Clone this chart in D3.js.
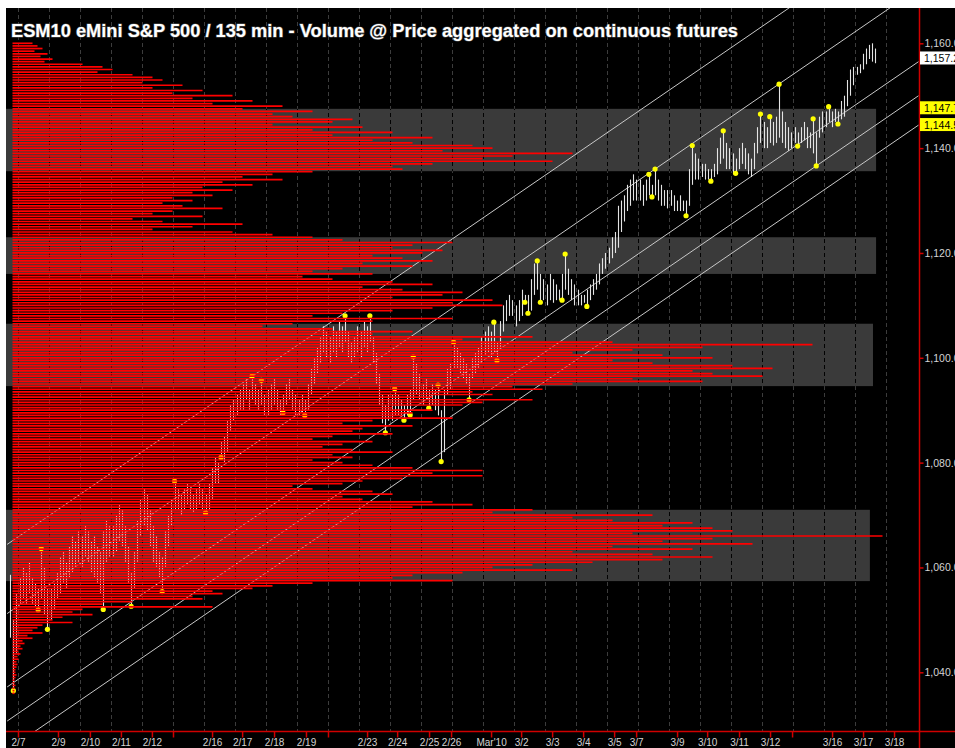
<!DOCTYPE html>
<html><head><meta charset="utf-8">
<script src="https://cdn.jsdelivr.net/npm/d3@7"></script>
<style>
html,body{margin:0;padding:0;background:#fff;}
svg{display:block;}
text{font-family:"Liberation Sans",Arial,sans-serif;}
</style></head><body>
<svg id="c" width="955" height="748"></svg>
<script>
const title = "ESM10 eMini S&P 500 / 135 min - Volume @ Price aggregated on continuous futures";
const priceTicks = [1040, 1060, 1080, 1100, 1120, 1140, 1160];
const dateTickLabels = ["2/7","2/9","2/10","2/11","2/12","","2/16","2/17","2/18","2/19","","2/23","2/24","2/25","2/26","Mar'10","3/2","3/3","3/4","3/5","3/7","3/9","3/10","3/11","3/12","","3/16","3/17","3/18"];
const dateTickBar = [-0.5,12.4,22.7,32.7,42.7,49.5,62.1,71.8,82.1,92.4,99.5,112.1,121.8,132.1,139.2,152.1,161.8,171.8,181.8,191.8,198.9,212.1,221.8,232.1,242.1,249.2,262.1,272.1,282.1];
const sessionCount = 29;       // session boundaries every 10 bars
const barsPerSession = 10;
const firstBar = -3;
const barHigh = [
 1058.6,1050,1055,
 1058,1060,1059,1061,1058,1057,1056,1063.6,1060,1056,
 1056,1057,1059,1062,1063,1061,1064,1066,1065,1067,
 1066,1068,1067,1065,1066,1064,1063,1067,1069,1068,
 1068,1070,1072,1071,1068,1064,1059,1063,1069,1073,
 1075,1074,1071,1068,1066,1063,1062,1067,1070,1073,
 1076.5,1075,1074,1075,1076,1075,1074,1075,1076,1075,
 1074,1076,1079,1081,1080,1084,1085,1088,1091,1092,
 1093,1094,1095,1096,1094,1096.5,1095,1094,1095.7,1093,
 1094,1095,1096,1094,1092,1093,1095,1096,1094,1093,
 1092,1093,1092,1095,1098,1100,1102,1104,1106,1105,
 1104,1106,1105,1107,1106,1108,1105,1103,1104,1106,
 1105,1107,1106,1108,1104,1101,1097,1093,1091,1093,
 1093,1094.1,1093,1092,1091,1093,1094,1100.2,1099,1097,
 1095,1096,1094,1095,1094,1094.8,1090,1094,1098,1099,
 1103,1102,1101,1100,1099,1097,1100,1101,1102,1104,
 1105,1106,1105,1106.8,1103,1107,1110,1111,1112,1111,
 1110,1111,1113,1112,1112,1115,1118,1118.5,1116,1115,
 1114,1116,1115,1114,1113,1116,1119.8,1117,1115,1114,
 1113,1112,1112,1113,1114,1115,1116,1118,1119,1120,
 1121,1123,1124,1129,1130,1131,1133,1134,1135,1134,
 1134,1133,1134,1135,1133,1136,1134,1133,1132,1132,
 1132,1131,1130,1131,1130,1130,1136,1140.5,1139,1138,
 1137,1137,1136,1136,1137,1140,1142,1143.3,1141,1140,
 1139,1138,1140,1141,1140,1139,1138,1141,1144,1146.5,
 1145,1144,1146,1145,1146,1152.2,1147,1145,1144,1143,
 1144,1143,1144,1145,1144,1143,1145.6,1143,1146,1147,
 1147,1147.9,1147,1147.5,1147,1149,1150,1153,1155,1155.5,
 1155.5,1156,1158,1159,1159.7,1160,1159
];
const barLow = [
 1046.6,1036.5,1043.7,
 1053,1054,1053,1055,1053,1052.5,1051.9,1054,1051,1048.2,
 1050,1052,1054,1055,1057,1056,1058,1059,1060,1061,
 1060,1062,1061,1059,1058,1057,1055,1052,1061,1062,
 1062,1063,1065,1064,1061,1057,1052.6,1056,1061,1066,
 1068,1067,1064,1061,1060,1058,1055.4,1060,1064,1068,
 1071,1071,1070,1071,1072,1071,1070.5,1071,1072,1071,
 1070.4,1071,1073,1076,1076,1081,1080,1082,1086,1088,
 1089,1090,1090,1092,1090,1092,1091,1090,1091,1089,
 1089,1090,1091,1090,1089,1089.5,1091,1092,1090,1089,
 1089,1089.5,1089,1090,1093,1095,1097,1099,1101,1100,
 1099,1101,1100,1102,1101,1103,1100,1099,1100,1101,
 1100,1102,1101,1103,1099,1095,1091,1087.5,1085.7,1088,
 1088,1089,1089,1089,1088.1,1089,1089.1,1092,1093,1092,
 1091,1092,1090.4,1091,1090,1089,1080.2,1082,1093,1094,
 1098,1098,1097,1096,1095,1092,1096,1097,1098,1099,
 1100.5,1101,1100,1101,1099.5,1102,1105,1107,1108,1108,
 1106,1107,1108,1110.6,1108.5,1109,1112,1113,1110.6,1111,
 1110,1111,1110.5,1111,1111,1111,1113,1112,1111,1110,
 1110,1110,1110.5,1109.8,1111,1112,1113,1114,1116,1117,
 1118,1119,1120,1121,1124,1126,1128,1129,1130,1130,
 1130,1129,1130,1131,1130.7,1131,1130,1129,1129,1128.5,
 1129,1128,1128,1128,1128,1127.1,1129,1133,1134,1134,
 1134.5,1134,1134,1133.7,1134.5,1135,1137,1138,1136,1136,
 1135,1135.2,1136,1137,1136,1135,1134.5,1136,1139,1141,
 1140,1140,1141,1140.5,1141,1142,1141,1140,1139.5,1140,
 1141,1140.4,1141,1141.5,1140,1140,1139,1136.6,1142,1143,
 1144,1145,1144,1145,1144.6,1145.5,1146,1148,1150,1152,
 1154,1154.3,1155,1156,1157,1156.5,1156.2
];
const pivotBar = [-2,6,7,9,27,36,46,50,60,65,75,78,85,92,105,113,118,121,124,126,127,132,135,136,140,145,153,154,163,164,167,168,175,176,183,203,204,205,215,217,223,227,231,239,242,245,251,256,257,261,264];
const pivotPrice = [1036.5,1051.9,1063.6,1048.2,1052,1052.6,1055.4,1076.5,1070.4,1081,1096.5,1095.7,1089.5,1089,1108,1108,1085.7,1094.1,1088.1,1089.1,1100.2,1090.4,1094.8,1080.2,1103,1092,1106.8,1099.5,1110.6,1108.5,1118.5,1110.6,1111,1119.8,1109.8,1135,1130.7,1136,1127.1,1140.5,1133.7,1143.3,1135.2,1146.5,1146,1152.2,1140.4,1145.6,1136.6,1147.9,1144.6];
const profileTopPrice = 1160;
const profileStep = 0.5;
const profileVolume = [
 20,25, 30,22, 35,28, 40,32, 70,90, 100,85, 120,140, 150,130, 170,140, 190,160,
 220,180, 240,200, 270,230, 300,260, 280,340, 320,260, 350,300, 380,320, 420,360, 400,460,
 480,430, 560,500, 470,540, 420,380, 390,300, 260,230, 270,210, 240,190, 220,180, 200,160,
 180,150, 170,210, 160,140, 190,120, 150,230, 180,140, 220,260, 300,330, 440,400, 380,430,
 410,360, 390,420, 350,400, 330,300, 360,290, 320,380, 420,350, 390,450, 430,380, 480,440,
 490,420, 380,330, 300,440, 360,280, 250,320, 400,360, 520,450, 600,800, 690,620, 560,650,
 700,600, 640,720, 760,680, 700,750, 620,690, 560,500, 530,460, 480,420, 520,470, 450,380,
 420,400, 390,440, 360,330, 400,350, 340,380, 320,300, 360,330, 310,340, 380,320, 340,300,
 330,360, 400,470, 420,470, 390,350, 330,280, 300,360, 380,330, 350,420, 460,400, 520,480,
 640,560, 600,680, 650,700, 720,620, 870,700, 650,740, 600,680, 560,640, 700,650, 580,520,
 480,560, 450,400, 380,440, 300,260, 240,200, 210,180, 190,120, 90,200, 70,60, 80,50,
 40,60, 30,25, 20,30, 15,20, 10,12, 8,10, 6,8, 5,6, 4,5, 4,3,
 3,4, 3,2, 2,3, 2,2, 2
];
const zoneLow  = [1135.6, 1116.0, 1094.6, 1057.4];
const zoneHigh = [1147.5, 1123.0, 1106.5, 1071.0];
const zoneEndBar = [276.3, 276.3, 275.3, 274.3];
const channelStartBar = -4, channelEndBar = 290;
const channelStart = [1064.4, 1051.2, 1037.2, 1030.7, 1025.1];
const channelEnd   = [1183.7, 1170.5, 1156.5, 1150.0, 1144.4];
const markerPrice = [1157.2, 1147.7, 1144.5];
const markerKind  = ["last", "level", "level"];

// ---------- layout ----------
const W = 955, H = 748, L = 6, R = 919, T = 8, B = 731;
const svg = d3.select("#c");
const x = d3.scaleLinear().domain([-0.5, 289.5]).range([18, 917]);
const y = d3.scaleLinear().domain([1160, 1040]).range([43.3, 672.3]);
const v = d3.scaleLinear().domain([0, 1000]).range([12.5, 1012.5]);

svg.append("rect").attr("width", W).attr("height", H).attr("fill", "#fff");
svg.append("rect").attr("x", L).attr("y", T).attr("width", W - L).attr("height", H - T).attr("fill", "#000");

svg.append("clipPath").attr("id", "plot").append("rect")
  .attr("x", L).attr("y", T).attr("width", R - L).attr("height", B - T);
const g = svg.append("g").attr("clip-path", "url(#plot)");

// zones
g.selectAll("rect.zone").data(zoneLow).join("rect").attr("class", "zone")
  .attr("x", L).attr("width", (d, i) => x(zoneEndBar[i]) - L)
  .attr("y", (d, i) => y(zoneHigh[i])).attr("height", (d, i) => y(zoneLow[i]) - y(zoneHigh[i]))
  .attr("fill", "#3a3a3a");

// session grid
g.append("g").style("mix-blend-mode", "difference")
  .selectAll("line").data(d3.range(sessionCount)).join("line")
  .attr("x1", k => Math.round(x(k * barsPerSession - 0.5)) + 0.5)
  .attr("x2", k => Math.round(x(k * barsPerSession - 0.5)) + 0.5)
  .attr("y1", T).attr("y2", B)
  .attr("stroke", "#3c3c3c").attr("stroke-width", 1).attr("stroke-dasharray", "4,3");

// channel lines
g.selectAll("line.ch").data(channelStart).join("line").attr("class", "ch")
  .attr("x1", x(channelStartBar)).attr("y1", d => y(d))
  .attr("x2", x(channelEndBar)).attr("y2", (d, i) => y(channelEnd[i]))
  .attr("stroke", "#c8c8c8").attr("stroke-width", 1);

// price bars
const bars = barHigh.map((h, i) => ({ i: i + firstBar, h, l: barLow[i] }));
g.selectAll("line.bar").data(bars).join("line").attr("class", "bar")
  .attr("x1", d => Math.round(x(d.i)) + 0.5).attr("x2", d => Math.round(x(d.i)) + 0.5)
  .attr("y1", d => y(d.h)).attr("y2", d => y(d.l))
  .attr("stroke", "#e4e4e4").attr("stroke-width", 1.1);

// pivots
g.selectAll("circle.pv").data(pivotBar).join("circle").attr("class", "pv")
  .attr("cx", d => x(d)).attr("cy", (d, i) => y(pivotPrice[i]))
  .attr("r", 2.6).attr("fill", "#ffff00");

// volume profile
g.selectAll("line.vp").data(profileVolume).join("line").attr("class", "vp")
  .attr("x1", v(0)).attr("x2", d => v(d))
  .attr("y1", (d, i) => y(profileTopPrice - i * profileStep))
  .attr("y2", (d, i) => y(profileTopPrice - i * profileStep))
  .attr("stroke", "#ff0000").attr("stroke-width", 1.7);

// axes lines
svg.append("line").attr("x1", L).attr("x2", W).attr("y1", B + 0.5).attr("y2", B + 0.5)
  .attr("stroke", "#d00000").attr("stroke-width", 1.5);
svg.append("line").attr("x1", R + 0.5).attr("x2", R + 0.5).attr("y1", T).attr("y2", H)
  .attr("stroke", "#d00000").attr("stroke-width", 1.5);

// bottom axis
const xa = svg.append("g").attr("transform", `translate(0,${B + 0.5})`)
  .call(d3.axisBottom(x).tickValues(dateTickBar).tickSize(6).tickPadding(1.5)
    .tickFormat((d, i) => dateTickLabels[i]));
xa.select(".domain").remove();
xa.selectAll(".tick line").attr("stroke", "#d00000").attr("stroke-width", 1.5);
xa.selectAll(".tick text").attr("fill", "#d4d4d4").style("font-size", "10px")
  .style("font-family", "Liberation Sans, Arial, sans-serif");

// right axis
const ya = svg.append("g").attr("transform", `translate(${R + 0.5},0)`)
  .call(d3.axisRight(y).tickValues(priceTicks).tickSize(4).tickPadding(1)
    .tickFormat(d3.format(",.1f")));
ya.select(".domain").remove();
ya.selectAll(".tick line").attr("stroke", "#d00000").attr("stroke-width", 1.5);
ya.selectAll(".tick text").attr("fill", "#d4d4d4").style("font-size", "10.5px")
  .style("font-family", "Liberation Sans, Arial, sans-serif");

// price markers
const mk = svg.selectAll("g.mk").data(markerPrice).join("g").attr("class", "mk")
  .attr("transform", d => `translate(${R + 1},${y(d)})`);
mk.append("rect").attr("x", 0).attr("y", -6.5).attr("width", 40).attr("height", 13)
  .attr("fill", (d, i) => markerKind[i] === "last" ? "#ffffff" : "#ffff00");
mk.append("text").attr("x", 4).attr("y", 4).attr("fill", "#000").style("font-size", "10.5px")
  .text(d => d3.format(",.1f")(d));

// title
svg.append("text").attr("x", 11).attr("y", 37).text(title)
  .attr("fill", "#fff").attr("stroke", "#505050").attr("stroke-width", 1.2)
  .attr("paint-order", "stroke")
  .style("font-size", "18.25px").style("font-weight", "bold");
</script>
</body></html>
